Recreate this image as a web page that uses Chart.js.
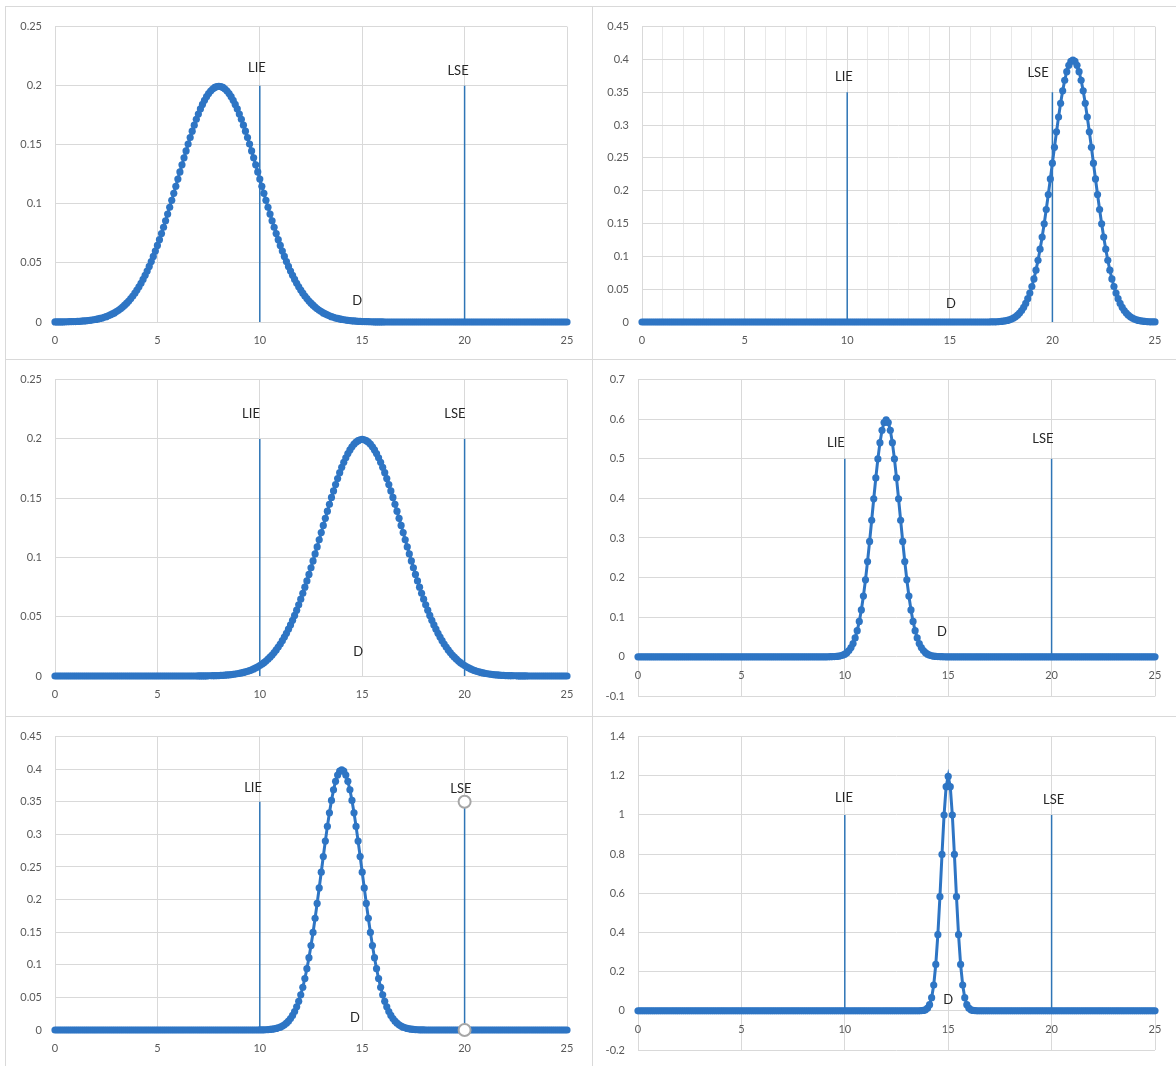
<!DOCTYPE html>
<html>
<head>
<meta charset="utf-8">
<script src="https://cdn.jsdelivr.net/npm/chart.js@4.4.1/dist/chart.umd.min.js"></script>
<style>
  html, body { margin: 0; padding: 0; background: #fff; }
  body { width: 1176px; height: 1066px; position: relative; overflow: hidden; font-family: Lato, sans-serif; }
  .cell { position: absolute; box-sizing: border-box; border: 1px solid #d9d9d9; }
  canvas { position: absolute; }
</style>
</head>
<body>
<script>
// x grid shared by every curve (step 0.1)
const xValues = [
  0,0.1,0.2,0.3,0.4,0.5,0.6,0.7,0.8,0.9,
  1,1.1,1.2,1.3,1.4,1.5,1.6,1.7,1.8,1.9,
  2,2.1,2.2,2.3,2.4,2.5,2.6,2.7,2.8,2.9,
  3,3.1,3.2,3.3,3.4,3.5,3.6,3.7,3.8,3.9,
  4,4.1,4.2,4.3,4.4,4.5,4.6,4.7,4.8,4.9,
  5,5.1,5.2,5.3,5.4,5.5,5.6,5.7,5.8,5.9,
  6,6.1,6.2,6.3,6.4,6.5,6.6,6.7,6.8,6.9,
  7,7.1,7.2,7.3,7.4,7.5,7.6,7.7,7.8,7.9,
  8,8.1,8.2,8.3,8.4,8.5,8.6,8.7,8.8,8.9,
  9,9.1,9.2,9.3,9.4,9.5,9.6,9.7,9.8,9.9,
  10,10.1,10.2,10.3,10.4,10.5,10.6,10.7,10.8,10.9,
  11,11.1,11.2,11.3,11.4,11.5,11.6,11.7,11.8,11.9,
  12,12.1,12.2,12.3,12.4,12.5,12.6,12.7,12.8,12.9,
  13,13.1,13.2,13.3,13.4,13.5,13.6,13.7,13.8,13.9,
  14,14.1,14.2,14.3,14.4,14.5,14.6,14.7,14.8,14.9,
  15,15.1,15.2,15.3,15.4,15.5,15.6,15.7,15.8,15.9,
  16,16.1,16.2,16.3,16.4,16.5,16.6,16.7,16.8,16.9,
  17,17.1,17.2,17.3,17.4,17.5,17.6,17.7,17.8,17.9,
  18,18.1,18.2,18.3,18.4,18.5,18.6,18.7,18.8,18.9,
  19,19.1,19.2,19.3,19.4,19.5,19.6,19.7,19.8,19.9,
  20,20.1,20.2,20.3,20.4,20.5,20.6,20.7,20.8,20.9,
  21,21.1,21.2,21.3,21.4,21.5,21.6,21.7,21.8,21.9,
  22,22.1,22.2,22.3,22.4,22.5,22.6,22.7,22.8,22.9,
  23,23.1,23.2,23.3,23.4,23.5,23.6,23.7,23.8,23.9,
  24,24.1,24.2,24.3,24.4,24.5,24.6,24.7,24.8,24.9,
  25
];

// density values, mean 8
const pdf1 = [
  0.0001,0.0001,0.0001,0.0001,0.0001,0.0002,0.0002,0.0003,0.0003,0.0004,
  0.0004,0.0005,0.0006,0.0007,0.0009,0.0010,0.0012,0.0014,0.0016,0.0019,
  0.0022,0.0026,0.0030,0.0034,0.0040,0.0045,0.0052,0.0060,0.0068,0.0077,
  0.0088,0.0099,0.0112,0.0126,0.0142,0.0159,0.0177,0.0198,0.0220,0.0244,
  0.0270,0.0298,0.0328,0.0360,0.0395,0.0431,0.0470,0.0511,0.0555,0.0600,
  0.0648,0.0697,0.0749,0.0802,0.0857,0.0913,0.0971,0.1030,0.1089,0.1149,
  0.1210,0.1270,0.1330,0.1390,0.1448,0.1506,0.1561,0.1615,0.1666,0.1715,
  0.1760,0.1803,0.1841,0.1876,0.1907,0.1933,0.1955,0.1972,0.1985,0.1992,
  0.1995,
  0.1992,0.1985,0.1972,0.1955,0.1933,0.1907,0.1876,0.1841,0.1803,0.1760,
  0.1715,0.1666,0.1615,0.1561,0.1506,0.1448,0.1390,0.1330,0.1270,0.1210,
  0.1149,0.1089,0.1030,0.0971,0.0913,0.0857,0.0802,0.0749,0.0697,0.0648,
  0.0600,0.0555,0.0511,0.0470,0.0431,0.0395,0.0360,0.0328,0.0298,0.0270,
  0.0244,0.0220,0.0198,0.0177,0.0159,0.0142,0.0126,0.0112,0.0099,0.0088,
  0.0077,0.0068,0.0060,0.0052,0.0045,0.0040,0.0034,0.0030,0.0026,0.0022,
  0.0019,0.0016,0.0014,0.0012,0.0010,0.0009,0.0007,0.0006,0.0005,0.0004,
  0.0004,0.0003,0.0003,0.0002,0.0002,0.0001,0.0001,0.0001,0.0001,0.0001,
  0,0,0,0,0,0,0,0,0,0,
  0,0,0,0,0,0,0,0,0,0,
  0,0,0,0,0,0,0,0,0,0,
  0,0,0,0,0,0,0,0,0,0,
  0,0,0,0,0,0,0,0,0,0,
  0,0,0,0,0,0,0,0,0,0,
  0,0,0,0,0,0,0,0,0,0,
  0,0,0,0,0,0,0,0,0,0,
  0,0,0,0,0,0,0,0,0,0
];

// density values, mean 21
const pdf2 = [
  0,0,0,0,0,0,0,0,0,0,
  0,0,0,0,0,0,0,0,0,0,
  0,0,0,0,0,0,0,0,0,0,
  0,0,0,0,0,0,0,0,0,0,
  0,0,0,0,0,0,0,0,0,0,
  0,0,0,0,0,0,0,0,0,0,
  0,0,0,0,0,0,0,0,0,0,
  0,0,0,0,0,0,0,0,0,0,
  0,0,0,0,0,0,0,0,0,0,
  0,0,0,0,0,0,0,0,0,0,
  0,0,0,0,0,0,0,0,0,0,
  0,0,0,0,0,0,0,0,0,0,
  0,0,0,0,0,0,0,0,0,0,
  0,0,0,0,0,0,0,0,0,0,
  0,0,0,0,0,0,0,0,0,0,
  0,0,0,0,0,0,0,0,0,0,
  0,0,0,0,0,0,0,0,0,0,
  0.0001,0.0002,0.0003,0.0004,0.0006,0.0009,0.0012,0.0017,0.0024,0.0033,
  0.0044,0.0060,0.0079,0.0104,0.0136,0.0175,0.0224,0.0283,0.0355,0.0440,
  0.0540,0.0656,0.0790,0.0940,0.1109,0.1295,0.1497,0.1714,0.1942,0.2179,
  0.2420,0.2661,0.2897,0.3123,0.3332,0.3521,0.3683,0.3814,0.3910,0.3970,
  0.3989,
  0.3970,0.3910,0.3814,0.3683,0.3521,0.3332,0.3123,0.2897,0.2661,0.2420,
  0.2179,0.1942,0.1714,0.1497,0.1295,0.1109,0.0940,0.0790,0.0656,0.0540,
  0.0440,0.0355,0.0283,0.0224,0.0175,0.0136,0.0104,0.0079,0.0060,0.0044,
  0.0033,0.0024,0.0017,0.0012,0.0009,0.0006,0.0004,0.0003,0.0002,0.0001
];

// density values, mean 15
const pdf3 = [
  0,0,0,0,0,0,0,0,0,0,
  0,0,0,0,0,0,0,0,0,0,
  0,0,0,0,0,0,0,0,0,0,
  0,0,0,0,0,0,0,0,0,0,
  0,0,0,0,0,0,0,0,0,0,
  0,0,0,0,0,0,0,0,0,0,
  0,0,0,0,0,0,0,0,0,0,
  0.0001,0.0001,0.0001,0.0001,0.0001,0.0002,0.0002,0.0003,0.0003,0.0004,
  0.0004,0.0005,0.0006,0.0007,0.0009,0.0010,0.0012,0.0014,0.0016,0.0019,
  0.0022,0.0026,0.0030,0.0034,0.0040,0.0045,0.0052,0.0060,0.0068,0.0077,
  0.0088,0.0099,0.0112,0.0126,0.0142,0.0159,0.0177,0.0198,0.0220,0.0244,
  0.0270,0.0298,0.0328,0.0360,0.0395,0.0431,0.0470,0.0511,0.0555,0.0600,
  0.0648,0.0697,0.0749,0.0802,0.0857,0.0913,0.0971,0.1030,0.1089,0.1149,
  0.1210,0.1270,0.1330,0.1390,0.1448,0.1506,0.1561,0.1615,0.1666,0.1715,
  0.1760,0.1803,0.1841,0.1876,0.1907,0.1933,0.1955,0.1972,0.1985,0.1992,
  0.1995,
  0.1992,0.1985,0.1972,0.1955,0.1933,0.1907,0.1876,0.1841,0.1803,0.1760,
  0.1715,0.1666,0.1615,0.1561,0.1506,0.1448,0.1390,0.1330,0.1270,0.1210,
  0.1149,0.1089,0.1030,0.0971,0.0913,0.0857,0.0802,0.0749,0.0697,0.0648,
  0.0600,0.0555,0.0511,0.0470,0.0431,0.0395,0.0360,0.0328,0.0298,0.0270,
  0.0244,0.0220,0.0198,0.0177,0.0159,0.0142,0.0126,0.0112,0.0099,0.0088,
  0.0077,0.0068,0.0060,0.0052,0.0045,0.0040,0.0034,0.0030,0.0026,0.0022,
  0.0019,0.0016,0.0014,0.0012,0.0010,0.0009,0.0007,0.0006,0.0005,0.0004,
  0.0004,0.0003,0.0003,0.0002,0.0002,0.0001,0.0001,0.0001,0.0001,0.0001,
  0,0,0,0,0,0,0,0,0,0,
  0,0,0,0,0,0,0,0,0,0
];

// density values, mean 12
const pdf4 = [
  0,0,0,0,0,0,0,0,0,0,
  0,0,0,0,0,0,0,0,0,0,
  0,0,0,0,0,0,0,0,0,0,
  0,0,0,0,0,0,0,0,0,0,
  0,0,0,0,0,0,0,0,0,0,
  0,0,0,0,0,0,0,0,0,0,
  0,0,0,0,0,0,0,0,0,0,
  0,0,0,0,0,0,0,0,0,0,
  0,0,0,0,0,0,0,0,0,0,
  0,0,
  0.0001,0.0002,0.0003,0.0005,0.0009,0.0016,0.0026,0.0042,0.0066,0.0103,
  0.0156,0.0232,0.0336,0.0476,0.0660,0.0894,0.1184,0.1534,0.1943,0.2406,
  0.2913,0.3448,0.3991,0.4517,0.4998,0.5408,0.5721,0.5917,0.5984,
  0.5917,0.5721,0.5408,0.4998,0.4517,0.3991,0.3448,0.2913,0.2406,0.1943,
  0.1534,0.1184,0.0894,0.0660,0.0476,0.0336,0.0232,0.0156,0.0103,0.0066,
  0.0042,0.0026,0.0016,0.0009,0.0005,0.0003,0.0002,0.0001,
  0,0,0,0,0,0,0,0,0,0,
  0,0,0,0,0,0,0,0,0,0,
  0,0,0,0,0,0,0,0,0,0,
  0,0,0,0,0,0,0,0,0,0,
  0,0,0,0,0,0,0,0,0,0,
  0,0,0,0,0,0,0,0,0,0,
  0,0,0,0,0,0,0,0,0,0,
  0,0,0,0,0,0,0,0,0,0,
  0,0,0,0,0,0,0,0,0,0,
  0,0,0,0,0,0,0,0,0,0,
  0,0
];

// density values, mean 14
const pdf5 = [
  0,0,0,0,0,0,0,0,0,0,
  0,0,0,0,0,0,0,0,0,0,
  0,0,0,0,0,0,0,0,0,0,
  0,0,0,0,0,0,0,0,0,0,
  0,0,0,0,0,0,0,0,0,0,
  0,0,0,0,0,0,0,0,0,0,
  0,0,0,0,0,0,0,0,0,0,
  0,0,0,0,0,0,0,0,0,0,
  0,0,0,0,0,0,0,0,0,0,
  0,0,0,0,0,0,0,0,0,0,
  0.0001,0.0002,0.0003,0.0004,0.0006,0.0009,0.0012,0.0017,0.0024,0.0033,
  0.0044,0.0060,0.0079,0.0104,0.0136,0.0175,0.0224,0.0283,0.0355,0.0440,
  0.0540,0.0656,0.0790,0.0940,0.1109,0.1295,0.1497,0.1714,0.1942,0.2179,
  0.2420,0.2661,0.2897,0.3123,0.3332,0.3521,0.3683,0.3814,0.3910,0.3970,
  0.3989,
  0.3970,0.3910,0.3814,0.3683,0.3521,0.3332,0.3123,0.2897,0.2661,0.2420,
  0.2179,0.1942,0.1714,0.1497,0.1295,0.1109,0.0940,0.0790,0.0656,0.0540,
  0.0440,0.0355,0.0283,0.0224,0.0175,0.0136,0.0104,0.0079,0.0060,0.0044,
  0.0033,0.0024,0.0017,0.0012,0.0009,0.0006,0.0004,0.0003,0.0002,0.0001,
  0,0,0,0,0,0,0,0,0,0,
  0,0,0,0,0,0,0,0,0,0,
  0,0,0,0,0,0,0,0,0,0,
  0,0,0,0,0,0,0,0,0,0,
  0,0,0,0,0,0,0,0,0,0,
  0,0,0,0,0,0,0,0,0,0,
  0,0,0,0,0,0,0,0,0,0
];

// density values, mean 15, narrow
const pdf6 = [
  0,0,0,0,0,0,0,0,0,0,
  0,0,0,0,0,0,0,0,0,0,
  0,0,0,0,0,0,0,0,0,0,
  0,0,0,0,0,0,0,0,0,0,
  0,0,0,0,0,0,0,0,0,0,
  0,0,0,0,0,0,0,0,0,0,
  0,0,0,0,0,0,0,0,0,0,
  0,0,0,0,0,0,0,0,0,0,
  0,0,0,0,0,0,0,0,0,0,
  0,0,0,0,0,0,0,0,0,0,
  0,0,0,0,0,0,0,0,0,0,
  0,0,0,0,0,0,0,0,0,0,
  0,0,0,0,0,0,0,0,0,0,
  0,0,0,0,0,0,
  0.0002,0.0006,0.0018,0.0052,0.0133,0.0313,0.0672,0.1319,0.2369,0.3886,
  0.5826,0.7983,0.9997,1.1442,1.1968,
  1.1442,0.9997,0.7983,0.5826,0.3886,0.2369,0.1319,0.0672,0.0313,0.0133,
  0.0052,0.0018,0.0006,0.0002,
  0,0,0,0,0,0,0,0,0,0,
  0,0,0,0,0,0,0,0,0,0,
  0,0,0,0,0,0,0,0,0,0,
  0,0,0,0,0,0,0,0,0,0,
  0,0,0,0,0,0,0,0,0,0,
  0,0,0,0,0,0,0,0,0,0,
  0,0,0,0,0,0,0,0,0,0,
  0,0,0,0,0,0,0,0,0,0,
  0,0,0,0,0,0
];

// spec limits and the height of their marker lines
const limitLIE = 10;
const limitLSE = 20;
const limitTop = [0.2, 0.35, 0.2, 0.5, 0.35, 1.0];

// axis ticks
const xTicks = [0, 5, 10, 15, 20, 25];
const xFine = [0,1,2,3,4,5,6,7,8,9,10,11,12,13,14,15,16,17,18,19,20,21,22,23,24,25];
const yTicks1 = [0, 0.05, 0.1, 0.15, 0.2, 0.25];
const yTicks2 = [0, 0.05, 0.1, 0.15, 0.2, 0.25, 0.3, 0.35, 0.4, 0.45];
const yTicks4 = [-0.1, 0, 0.1, 0.2, 0.3, 0.4, 0.5, 0.6, 0.7];
const yTicks6 = [-0.2, 0, 0.2, 0.4, 0.6, 0.8, 1, 1.2, 1.4];

const BLUE = '#2e75c4';
const LIMIT_BLUE = '#2e75b6';
const GRID = '#d9d9d9';
const GRID_MINOR = '#e8e8e8';
const TICK_COLOR = '#595959';

// cell box [left, top, width, height], plot box [left, top, right, bottom]
const panels = [
  { cell: [5, 6, 588, 354], plot: [55, 24, 567, 322], series: pdf1, yTicks: yTicks1, atZero: false, fine: false,
    notes: [['LIE', 9.86, 0.2155], ['LSE', 19.68, 0.213], ['D', 14.75, 0.018]] },
  { cell: [592, 6, 590, 354], plot: [642, 24, 1155, 322], series: pdf2, yTicks: yTicks2, atZero: false, fine: true,
    notes: [['LIE', 9.84, 0.374], ['LSE', 19.3, 0.379], ['D', 15.06, 0.027]] },
  { cell: [5, 359, 588, 358], plot: [55, 378, 567, 676], series: pdf3, yTicks: yTicks1, atZero: false, fine: false,
    notes: [['LIE', 9.57, 0.2215], ['LSE', 19.53, 0.2215], ['D', 14.8, 0.02]] },
  { cell: [592, 359, 590, 358], plot: [638, 378, 1155, 697], series: pdf4, yTicks: yTicks4, atZero: true, fine: false,
    notes: [['LIE', 9.57, 0.54], ['LSE', 19.58, 0.55], ['D', 14.7, 0.0625]] },
  { cell: [5, 716, 588, 360], plot: [55, 733, 567, 1030], series: pdf5, yTicks: yTicks2, atZero: false, fine: false, rings: true,
    notes: [['LIE', 9.67, 0.371], ['LSE', 19.82, 0.37], ['D', 14.65, 0.018]] },
  { cell: [592, 716, 590, 360], plot: [638, 735, 1155, 1050], series: pdf6, yTicks: yTicks6, atZero: true, fine: false,
    notes: [['LIE', 9.96, 1.089], ['LSE', 20.1, 1.078], ['D', 15, 0.056]] }
];

// text labels placed in data coordinates
const notesPlugin = {
  id: 'notes',
  afterDatasetsDraw(chart, args, opts) {
    const { ctx } = chart;
    const x = chart.scales.x, y = chart.scales.y;
    ctx.save();
    ctx.font = '13px Lato, sans-serif';
    ctx.fillStyle = '#262626';
    ctx.textAlign = 'center';
    ctx.textBaseline = 'middle';
    (opts.items || []).forEach(([t, vx, vy]) => ctx.fillText(t, x.getPixelForValue(vx), y.getPixelForValue(vy)));
    ctx.restore();
  }
};

const tickFont = { family: 'Lato, sans-serif', size: 11 };

panels.forEach((p, i) => {
  if (p.series.length !== xValues.length) throw new Error('series ' + (i + 1) + ' has ' + p.series.length + ' points');

  const box = document.createElement('div');
  box.className = 'cell';
  Object.assign(box.style, { left: p.cell[0] + 'px', top: p.cell[1] + 'px', width: p.cell[2] + 'px', height: p.cell[3] + 'px' });
  document.body.appendChild(box);

  const ox = p.cell[0] + 1, oy = p.cell[1] + 1;
  const cw = p.cell[2] - 2, ch = p.cell[3] - 2;
  const canvas = document.createElement('canvas');
  canvas.width = cw;
  canvas.height = ch;
  Object.assign(canvas.style, { left: ox + 'px', top: oy + 'px', width: cw + 'px', height: ch + 'px' });
  document.body.appendChild(canvas);

  const yAxisWidth = p.plot[0] - ox;
  const padTop = p.plot[1] - oy;
  const padRight = ox + cw - p.plot[2];
  const bottomSpace = oy + ch - p.plot[3];
  const top = limitTop[i];

  const limitSet = (xv) => ({
    data: [{ x: xv, y: 0 }, { x: xv, y: top }],
    borderColor: LIMIT_BLUE,
    borderWidth: 1.5,
    pointRadius: p.rings && xv === limitLSE ? 6 : 0,
    pointBackgroundColor: '#ffffff',
    pointBorderColor: '#a6a6a6',
    pointBorderWidth: 2,
    clip: false,
    order: p.rings && xv === limitLSE ? -1 : 2
  });

  new Chart(canvas, {
    type: 'line',
    data: {
      labels: xValues,
      datasets: [
        {
          data: p.series,
          borderColor: BLUE,
          backgroundColor: BLUE,
          borderWidth: 3,
          pointRadius: 3.6,
          pointBorderWidth: 0,
          pointBackgroundColor: BLUE,
          tension: 0,
          clip: false,
          order: 1
        },
        limitSet(limitLIE),
        limitSet(limitLSE)
      ]
    },
    options: {
      responsive: false,
      animation: false,
      events: [],
      layout: {
        autoPadding: false,
        padding: { left: 0, top: padTop, right: padRight, bottom: p.atZero ? bottomSpace : 0 }
      },
      plugins: {
        legend: { display: false },
        tooltip: { enabled: false },
        notes: { items: p.notes }
      },
      scales: {
        x: {
          type: 'linear',
          min: 0,
          max: 25,
          position: p.atZero ? { y: 0 } : 'bottom',
          afterFit: (s) => { if (!p.atZero) s.height = bottomSpace; },
          afterBuildTicks: (s) => { s.ticks = (p.fine ? xFine : xTicks).map(v => ({ value: v })); },
          grid: {
            drawTicks: false,
            lineWidth: 1,
            color: (c) => (c.tick && xTicks.includes(c.tick.value)) ? GRID : GRID_MINOR
          },
          border: { display: false },
          ticks: {
            padding: 12,
            color: TICK_COLOR,
            font: tickFont,
            autoSkip: false,
            maxRotation: 0,
            callback: (v) => xTicks.includes(v) ? String(v) : ''
          }
        },
        y: {
          type: 'linear',
          min: p.yTicks[0],
          max: p.yTicks[p.yTicks.length - 1],
          afterFit: (s) => { s.width = yAxisWidth; },
          afterBuildTicks: (s) => { s.ticks = p.yTicks.map(v => ({ value: v })); },
          grid: { drawTicks: false, lineWidth: 1, color: GRID },
          border: { display: false },
          ticks: { padding: 13, color: TICK_COLOR, font: tickFont, callback: (v) => String(v) }
        }
      }
    },
    plugins: [notesPlugin]
  });
});
</script>
</body>
</html>
